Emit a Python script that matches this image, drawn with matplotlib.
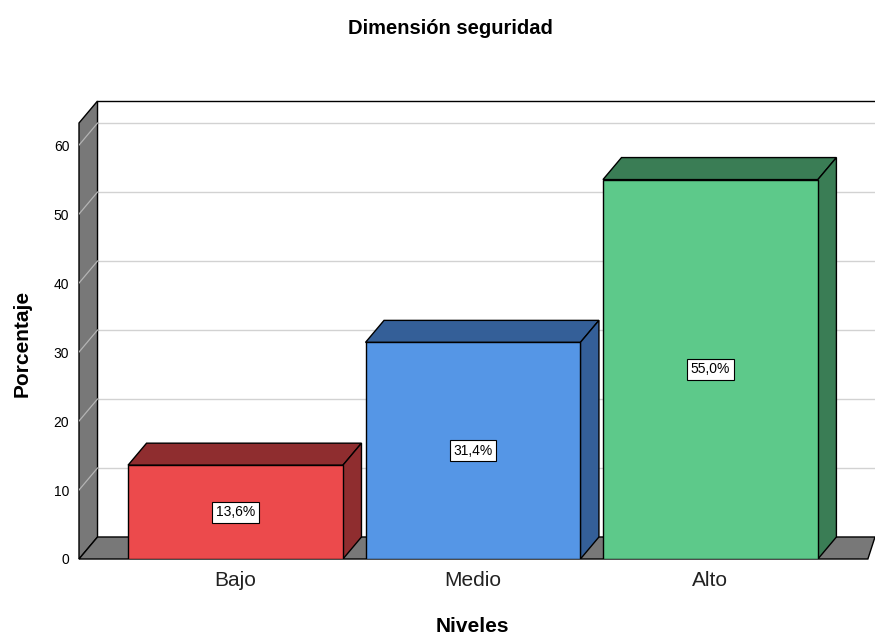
import matplotlib.pyplot as plt
from matplotlib.patches import Polygon
import numpy as np

plt.rcParams['font.family'] = ['Liberation Sans', 'DejaVu Sans']

# data
niveles = ['Bajo', 'Medio', 'Alto']
porcentajes = [13.6, 31.4, 55.0]
y_ticks = [0, 10, 20, 30, 40, 50, 60]

front_colors = ['#ec4a4c', '#5596e6', '#5dc98a']
dark_colors = ['#8f2d2f', '#345f98', '#3a7d55']

# layout of the pseudo-3D box (data units)
x_left = -0.659
x_right = 2.663
x_right_back = 2.693
y_top = 63.2
dx = 0.078   # depth offset in x
dy = 3.19    # depth offset in y
bar_w = 0.905
wall_gray = '#787878'

fig = plt.figure(figsize=(8.75, 6.37), dpi=100)
ax = fig.add_axes([79 / 875, 78 / 637, (875 - 79) / 875, (559 - 101) / 637])
ax.set_xlim(x_left, x_right_back)
ax.set_ylim(0, y_top + dy)
for s in ax.spines.values():
    s.set_visible(False)

# back wall gridlines
for v in y_ticks[1:]:
    ax.plot([x_left + dx, x_right_back], [v + dy, v + dy], color='#d2d2d2', lw=1.0, zorder=1)

# top frame line of the back wall
ax.plot([x_left + dx, x_right_back], [y_top + dy, y_top + dy], color='black', lw=1.0, zorder=2,
        clip_on=False)

# left wall
left_wall = Polygon([(x_left, 0), (x_left, y_top), (x_left + dx, y_top + dy), (x_left + dx, dy)],
                    closed=True, facecolor=wall_gray, edgecolor='black', lw=1.0, zorder=2,
                    clip_on=False)
ax.add_patch(left_wall)
for v in y_ticks[1:]:
    ax.plot([x_left, x_left + dx], [v, v + dy], color='#b4b4b4', lw=0.9, zorder=3)

# floor
floor = Polygon([(x_left, 0), (x_right, 0), (x_right_back, dy), (x_left + dx, dy)],
                closed=True, facecolor=wall_gray, edgecolor='black', lw=1.0, zorder=2,
                clip_on=False)
ax.add_patch(floor)

# bars
xs = np.arange(len(niveles))
for x, val, fc, dc in zip(xs, porcentajes, front_colors, dark_colors):
    x0 = x - bar_w / 2
    x1 = x + bar_w / 2
    top = Polygon([(x0, val), (x1, val), (x1 + dx, val + dy), (x0 + dx, val + dy)],
                  closed=True, facecolor=dc, edgecolor='black', lw=1.0, zorder=4)
    side = Polygon([(x1, 0), (x1 + dx, dy), (x1 + dx, val + dy), (x1, val)],
                   closed=True, facecolor=dc, edgecolor='black', lw=1.0, zorder=4)
    front = Polygon([(x0, 0), (x1, 0), (x1, val), (x0, val)],
                    closed=True, facecolor=fc, edgecolor='black', lw=1.0, zorder=5)
    ax.add_patch(top)
    ax.add_patch(side)
    ax.add_patch(front)
    ax.text(x, val / 2, f'{val:.1f}%'.replace('.', ','), ha='center', va='center',
            fontsize=10, zorder=6,
            bbox=dict(boxstyle='square,pad=0.25', facecolor='white', edgecolor='black', lw=0.8))

ax.set_yticks(y_ticks)
ax.set_yticklabels([str(t) for t in y_ticks], fontsize=10)
ax.set_xticks(xs)
ax.set_xticklabels(niveles, fontsize=15, color='#222222')
ax.tick_params(axis='y', length=0, pad=7)
ax.tick_params(axis='x', length=0, pad=9)

fig.text(450 / 875, 1 - 29 / 637, 'Dimensión seguridad', ha='center', va='center',
         fontsize=14.5, fontweight='bold')
fig.text(22 / 875, 1 - 343 / 637, 'Porcentaje', ha='center', va='center', rotation=90,
         fontsize=15, fontweight='bold')
fig.text(472 / 875, 1 - 626 / 637, 'Niveles', ha='center', va='center',
         fontsize=15, fontweight='bold')

fig.savefig('out.png', dpi=100)
